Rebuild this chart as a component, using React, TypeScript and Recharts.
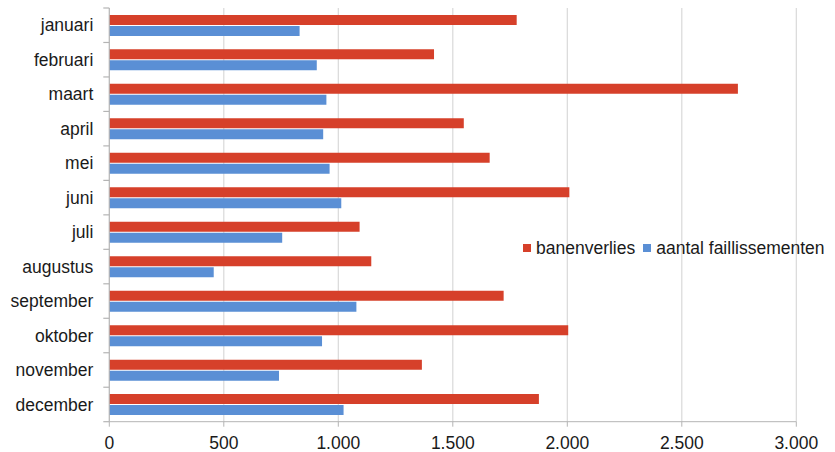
import React from "react";
import { BarChart, Bar, XAxis, YAxis, CartesianGrid } from "recharts";

const months = ["januari", "februari", "maart", "april", "mei", "juni", "juli", "augustus", "september", "oktober", "november", "december"];
const banenverlies = [1779, 1418, 2745, 1548, 1661, 2009, 1093, 1144, 1722, 2004, 1365, 1876];
const faillissementen = [831, 906, 948, 934, 962, 1013, 755, 456, 1079, 929, 741, 1023];
const xTicks = [0, 500, 1000, 1500, 2000, 2500, 3000];
const seriesNames = ["banenverlies", "aantal faillissementen"];
const seriesColors = ["#d6402a", "#5a8fd5"];

const data = months.map((m, i) => ({ month: m, banenverlies: banenverlies[i], faillissementen: faillissementen[i] }));

const FONT = "'Liberation Sans', Arial, sans-serif";
const FS = 17.5;

const fmt = (v: number) => v.toLocaleString("de-DE");

const YTick = (props: any) => {
  const { x, y, payload, index } = props;
  const half = payload && payload.offset ? payload.offset : 17.25;
  return (
    <g>
      <line x1={x - 6} x2={x} y1={y - half} y2={y - half} stroke="#b4b4b4" strokeWidth={1.2} />
      {index === months.length - 1 && (
        <line x1={x - 6} x2={x} y1={y + half} y2={y + half} stroke="#b4b4b4" strokeWidth={1.2} />
      )}
      <text x={x - 16} y={y} dy="0.355em" textAnchor="end" fill="#1a1a1a" fontSize={FS} fontFamily={FONT}>
        {payload.value}
      </text>
    </g>
  );
};

export default function App() {
  return (
    <div style={{ position: "absolute", left: 0, top: 0, width: 835, height: 452, background: "#fff" }}>
      <BarChart
        width={835}
        height={452}
        data={data}
        layout="vertical"
        margin={{ top: 8, right: 38.7, bottom: 0, left: 0 }}
        barCategoryGap="20%"
        barGap={1}
      >
        <CartesianGrid horizontal={false} stroke="#d9d9d9" strokeWidth={1.2} />
        <XAxis
          type="number"
          domain={[0, 3000]}
          ticks={xTicks}
          tickFormatter={fmt}
          height={30.3}
          stroke="#b4b4b4"
          tickSize={5}
          tickMargin={10}
          tick={{ fill: "#1a1a1a", fontSize: FS, fontFamily: FONT }}
          interval={0}
        />
        <YAxis
          type="category"
          dataKey="month"
          width={109.3}
          stroke="#b4b4b4"
          tickLine={false}
          tickSize={0}
          tickMargin={0}
          tick={<YTick />}
          interval={0}
        />
        <Bar dataKey="banenverlies" name={seriesNames[0]} fill={seriesColors[0]} isAnimationActive={false} />
        <Bar dataKey="faillissementen" name={seriesNames[1]} fill={seriesColors[1]} isAnimationActive={false} />
      </BarChart>
      <div
        style={{
          position: "absolute",
          left: 523,
          top: 238,
          display: "flex",
          alignItems: "center",
          fontFamily: FONT,
          fontSize: FS,
          color: "#1a1a1a",
          whiteSpace: "nowrap",
          lineHeight: "20px",
        }}
      >
        {seriesNames.map((n, i) => (
          <React.Fragment key={n}>
            <span style={{ display: "inline-block", width: 8, height: 8, background: seriesColors[i], marginRight: 5 }} />
            <span style={{ marginRight: i === 0 ? 8 : 0 }}>{n}</span>
          </React.Fragment>
        ))}
      </div>
    </div>
  );
}
